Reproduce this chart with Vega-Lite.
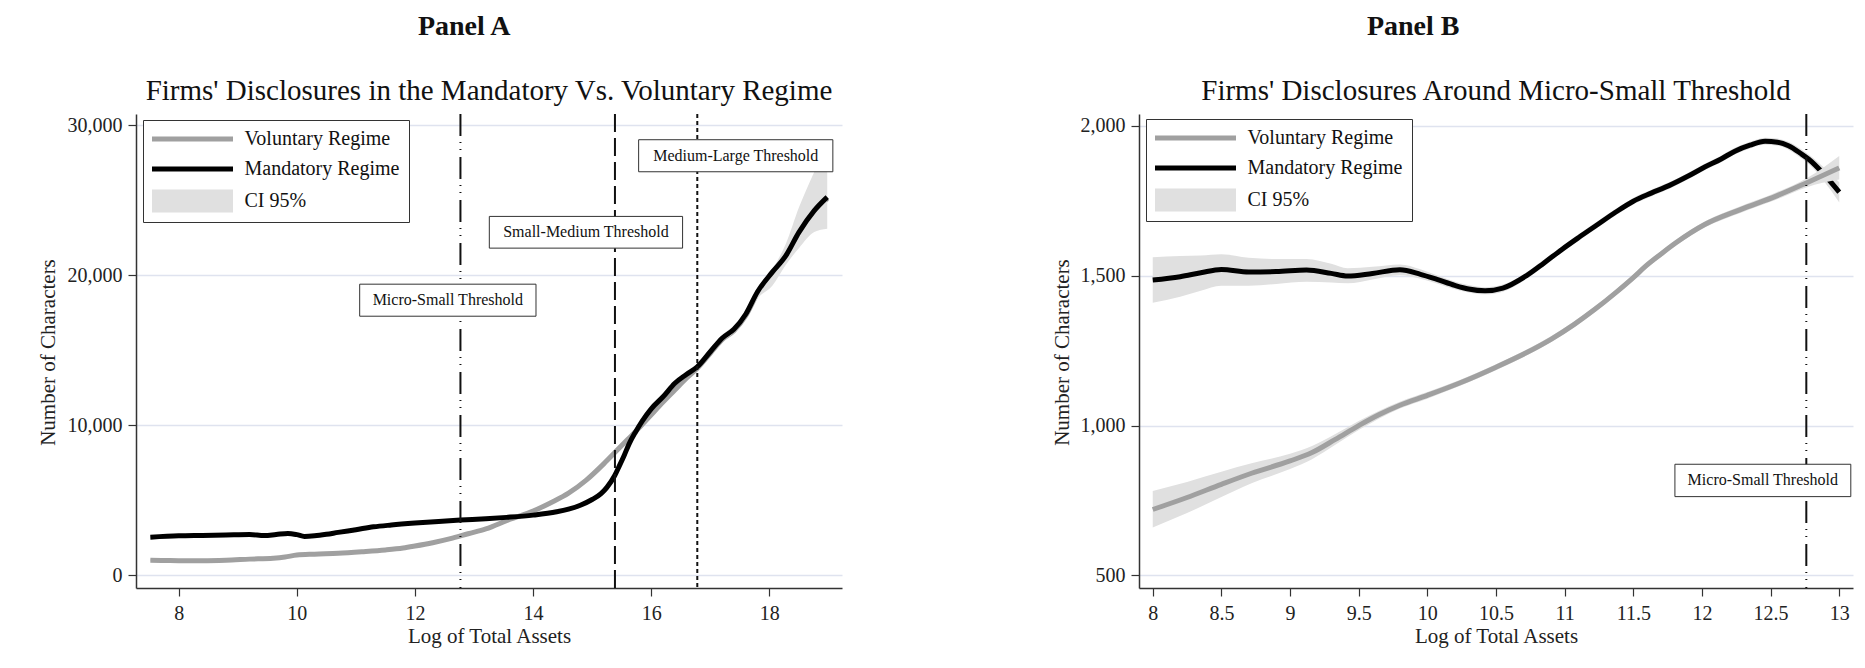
{
  "$schema": "https://vega.github.io/schema/vega-lite/v6.json",
  "padding": {"left": 37, "top": 13, "right": 10, "bottom": 10},
  "background": "white",
  "spacing": 201,
  "config": {
    "font": "Liberation Serif",
    "view": {"stroke": null},
    "axis": {
      "labelFont": "Liberation Serif", "labelFontSize": 20, "labelColor": "#222",
      "titleFont": "Liberation Serif", "titleFontSize": 21, "titleFontWeight": "normal", "titleColor": "#222",
      "domainColor": "#333", "domainWidth": 1.5, "tickColor": "#333", "tickSize": 8, "tickWidth": 1.2,
      "gridColor": "#dfe3ef", "gridWidth": 1.5
    },
    "axisX": {"grid": false, "labelPadding": 7, "titleY": 48, "titleBaseline": "middle"},
    "axisY": {"grid": true, "labelPadding": 6, "titleBaseline": "middle", "titleY": 238},
    "title": {"font": "Liberation Serif", "color": "#111"},
    "legend": {
      "title": null, "orient": "none", "legendX": 7, "legendY": 6, "direction": "vertical", "padding": 9,
      "strokeColor": "#333", "fillColor": "white", "labelFontSize": 20, "labelFont": "Liberation Serif", "labelColor": "#111",
      "labelLimit": 400, "labelOffset": 42, "symbolSize": 100, "symbolStrokeWidth": 0, "symbolOffset": 30.5, "rowPadding": 10,
      "symbolOpacity": 1
    }
  },
  "datasets": {
    "a_vol": [
      {"x": 7.52, "y": 1020, "lo": 960, "hi": 1080, "series": "Voluntary Regime"},
      {"x": 7.8, "y": 1000, "lo": 940, "hi": 1060, "series": "Voluntary Regime"},
      {"x": 8.0, "y": 990, "lo": 930, "hi": 1050, "series": "Voluntary Regime"},
      {"x": 8.4, "y": 990, "lo": 930, "hi": 1050, "series": "Voluntary Regime"},
      {"x": 8.8, "y": 1020, "lo": 960, "hi": 1080, "series": "Voluntary Regime"},
      {"x": 9.2, "y": 1090, "lo": 1030, "hi": 1150, "series": "Voluntary Regime"},
      {"x": 9.6, "y": 1150, "lo": 1090, "hi": 1210, "series": "Voluntary Regime"},
      {"x": 9.8, "y": 1230, "lo": 1170, "hi": 1290, "series": "Voluntary Regime"},
      {"x": 10.0, "y": 1360, "lo": 1300, "hi": 1420, "series": "Voluntary Regime"},
      {"x": 10.3, "y": 1420, "lo": 1360, "hi": 1480, "series": "Voluntary Regime"},
      {"x": 10.7, "y": 1480, "lo": 1420, "hi": 1540, "series": "Voluntary Regime"},
      {"x": 11.1, "y": 1580, "lo": 1520, "hi": 1640, "series": "Voluntary Regime"},
      {"x": 11.5, "y": 1700, "lo": 1640, "hi": 1760, "series": "Voluntary Regime"},
      {"x": 11.8, "y": 1830, "lo": 1770, "hi": 1890, "series": "Voluntary Regime"},
      {"x": 12.0, "y": 1960, "lo": 1900, "hi": 2020, "series": "Voluntary Regime"},
      {"x": 12.3, "y": 2180, "lo": 2120, "hi": 2240, "series": "Voluntary Regime"},
      {"x": 12.6, "y": 2450, "lo": 2390, "hi": 2510, "series": "Voluntary Regime"},
      {"x": 12.9, "y": 2780, "lo": 2720, "hi": 2840, "series": "Voluntary Regime"},
      {"x": 13.2, "y": 3100, "lo": 3040, "hi": 3160, "series": "Voluntary Regime"},
      {"x": 13.6, "y": 3730, "lo": 3670, "hi": 3790, "series": "Voluntary Regime"},
      {"x": 14.0, "y": 4290, "lo": 4230, "hi": 4350, "series": "Voluntary Regime"},
      {"x": 14.3, "y": 4850, "lo": 4790, "hi": 4910, "series": "Voluntary Regime"},
      {"x": 14.6, "y": 5480, "lo": 5420, "hi": 5540, "series": "Voluntary Regime"},
      {"x": 14.9, "y": 6350, "lo": 6290, "hi": 6410, "series": "Voluntary Regime"},
      {"x": 15.2, "y": 7450, "lo": 7350, "hi": 7550, "series": "Voluntary Regime"},
      {"x": 15.4, "y": 8250, "lo": 8150, "hi": 8350, "series": "Voluntary Regime"},
      {"x": 15.6, "y": 9050, "lo": 8950, "hi": 9150, "series": "Voluntary Regime"},
      {"x": 15.8, "y": 9850, "lo": 9750, "hi": 9950, "series": "Voluntary Regime"},
      {"x": 16.0, "y": 10700, "lo": 10600, "hi": 10800, "series": "Voluntary Regime"},
      {"x": 16.2, "y": 11550, "lo": 11450, "hi": 11650, "series": "Voluntary Regime"},
      {"x": 16.4, "y": 12350, "lo": 12250, "hi": 12450, "series": "Voluntary Regime"},
      {"x": 16.6, "y": 13150, "lo": 13050, "hi": 13250, "series": "Voluntary Regime"},
      {"x": 16.78, "y": 13800, "lo": 13700, "hi": 13900, "series": "Voluntary Regime"},
      {"x": 17.0, "y": 14800, "lo": 14650, "hi": 14950, "series": "Voluntary Regime"},
      {"x": 17.2, "y": 15700, "lo": 15550, "hi": 15850, "series": "Voluntary Regime"},
      {"x": 17.4, "y": 16300, "lo": 16150, "hi": 16450, "series": "Voluntary Regime"},
      {"x": 17.6, "y": 17300, "lo": 17150, "hi": 17450, "series": "Voluntary Regime"},
      {"x": 17.8, "y": 18800, "lo": 18650, "hi": 18950, "series": "Voluntary Regime"},
      {"x": 18.05, "y": 20100, "lo": 19950, "hi": 20250, "series": "Voluntary Regime"},
      {"x": 18.28, "y": 21200, "lo": 21050, "hi": 21350, "series": "Voluntary Regime"},
      {"x": 18.5, "y": 22750, "lo": 22600, "hi": 22900, "series": "Voluntary Regime"},
      {"x": 18.76, "y": 24200, "lo": 24050, "hi": 24350, "series": "Voluntary Regime"},
      {"x": 18.98, "y": 25100, "lo": 24950, "hi": 25250, "series": "Voluntary Regime"}
    ],
    "a_man": [
      {"x": 7.52, "y": 2550, "lo": 2470, "hi": 2630, "series": "Mandatory Regime"},
      {"x": 8.0, "y": 2640, "lo": 2560, "hi": 2720, "series": "Mandatory Regime"},
      {"x": 8.4, "y": 2670, "lo": 2590, "hi": 2750, "series": "Mandatory Regime"},
      {"x": 8.8, "y": 2700, "lo": 2620, "hi": 2780, "series": "Mandatory Regime"},
      {"x": 9.2, "y": 2730, "lo": 2650, "hi": 2810, "series": "Mandatory Regime"},
      {"x": 9.45, "y": 2660, "lo": 2580, "hi": 2740, "series": "Mandatory Regime"},
      {"x": 9.65, "y": 2730, "lo": 2650, "hi": 2810, "series": "Mandatory Regime"},
      {"x": 9.85, "y": 2800, "lo": 2720, "hi": 2880, "series": "Mandatory Regime"},
      {"x": 10.0, "y": 2720, "lo": 2640, "hi": 2800, "series": "Mandatory Regime"},
      {"x": 10.13, "y": 2600, "lo": 2520, "hi": 2680, "series": "Mandatory Regime"},
      {"x": 10.3, "y": 2640, "lo": 2560, "hi": 2720, "series": "Mandatory Regime"},
      {"x": 10.5, "y": 2740, "lo": 2660, "hi": 2820, "series": "Mandatory Regime"},
      {"x": 10.7, "y": 2870, "lo": 2790, "hi": 2950, "series": "Mandatory Regime"},
      {"x": 11.0, "y": 3050, "lo": 2970, "hi": 3130, "series": "Mandatory Regime"},
      {"x": 11.3, "y": 3240, "lo": 3160, "hi": 3320, "series": "Mandatory Regime"},
      {"x": 11.6, "y": 3360, "lo": 3280, "hi": 3440, "series": "Mandatory Regime"},
      {"x": 12.0, "y": 3490, "lo": 3410, "hi": 3570, "series": "Mandatory Regime"},
      {"x": 12.4, "y": 3600, "lo": 3520, "hi": 3680, "series": "Mandatory Regime"},
      {"x": 12.77, "y": 3690, "lo": 3610, "hi": 3770, "series": "Mandatory Regime"},
      {"x": 13.2, "y": 3780, "lo": 3700, "hi": 3860, "series": "Mandatory Regime"},
      {"x": 13.55, "y": 3870, "lo": 3790, "hi": 3950, "series": "Mandatory Regime"},
      {"x": 14.0, "y": 4020, "lo": 3940, "hi": 4100, "series": "Mandatory Regime"},
      {"x": 14.4, "y": 4240, "lo": 4160, "hi": 4320, "series": "Mandatory Regime"},
      {"x": 14.6, "y": 4420, "lo": 4340, "hi": 4500, "series": "Mandatory Regime"},
      {"x": 14.8, "y": 4680, "lo": 4600, "hi": 4760, "series": "Mandatory Regime"},
      {"x": 15.0, "y": 5060, "lo": 4980, "hi": 5140, "series": "Mandatory Regime"},
      {"x": 15.15, "y": 5450, "lo": 5370, "hi": 5530, "series": "Mandatory Regime"},
      {"x": 15.25, "y": 5870, "lo": 5790, "hi": 5950, "series": "Mandatory Regime"},
      {"x": 15.38, "y": 6640, "lo": 6540, "hi": 6740, "series": "Mandatory Regime"},
      {"x": 15.46, "y": 7300, "lo": 7200, "hi": 7400, "series": "Mandatory Regime"},
      {"x": 15.54, "y": 7980, "lo": 7880, "hi": 8080, "series": "Mandatory Regime"},
      {"x": 15.63, "y": 8800, "lo": 8700, "hi": 8900, "series": "Mandatory Regime"},
      {"x": 15.73, "y": 9530, "lo": 9430, "hi": 9630, "series": "Mandatory Regime"},
      {"x": 15.85, "y": 10300, "lo": 10200, "hi": 10400, "series": "Mandatory Regime"},
      {"x": 16.0, "y": 11100, "lo": 11000, "hi": 11200, "series": "Mandatory Regime"},
      {"x": 16.2, "y": 11900, "lo": 11780, "hi": 12020, "series": "Mandatory Regime"},
      {"x": 16.4, "y": 12800, "lo": 12680, "hi": 12920, "series": "Mandatory Regime"},
      {"x": 16.6, "y": 13400, "lo": 13260, "hi": 13540, "series": "Mandatory Regime"},
      {"x": 16.78, "y": 13900, "lo": 13740, "hi": 14060, "series": "Mandatory Regime"},
      {"x": 17.0, "y": 14900, "lo": 14700, "hi": 15100, "series": "Mandatory Regime"},
      {"x": 17.2, "y": 15800, "lo": 15580, "hi": 16020, "series": "Mandatory Regime"},
      {"x": 17.4, "y": 16400, "lo": 16150, "hi": 16650, "series": "Mandatory Regime"},
      {"x": 17.6, "y": 17400, "lo": 17100, "hi": 17700, "series": "Mandatory Regime"},
      {"x": 17.8, "y": 18900, "lo": 18450, "hi": 19150, "series": "Mandatory Regime"},
      {"x": 18.05, "y": 20200, "lo": 19300, "hi": 20400, "series": "Mandatory Regime"},
      {"x": 18.28, "y": 21300, "lo": 20700, "hi": 22100, "series": "Mandatory Regime"},
      {"x": 18.5, "y": 22850, "lo": 21800, "hi": 24500, "series": "Mandatory Regime"},
      {"x": 18.76, "y": 24300, "lo": 22870, "hi": 26870, "series": "Mandatory Regime"},
      {"x": 18.98, "y": 25200, "lo": 23090, "hi": 28800, "series": "Mandatory Regime"}
    ],
    "a_thr": [
      {"x": 12.77, "kind": "micro"},
      {"x": 15.386, "kind": "small"},
      {"x": 16.78, "kind": "large"}
    ],
    "a_box": [
      {"x": 11.064, "xe": 14.049, "y": 17267, "ye": 19400},
      {"x": 13.259, "xe": 16.531, "y": 21800, "ye": 23913},
      {"x": 15.787, "xe": 19.075, "y": 26887, "ye": 29020}
    ],
    "a_lab": [
      {"x": 12.556, "y": 18333, "label": "Micro-Small Threshold"},
      {"x": 14.895, "y": 22857, "label": "Small-Medium Threshold"},
      {"x": 17.431, "y": 27953, "label": "Medium-Large Threshold"}
    ],
    "b_vol": [
      {"x": 8.0, "y": 720, "lo": 660, "hi": 782, "series": "Voluntary Regime"},
      {"x": 8.25, "y": 760, "lo": 708, "hi": 812, "series": "Voluntary Regime"},
      {"x": 8.5, "y": 804, "lo": 762, "hi": 846, "series": "Voluntary Regime"},
      {"x": 8.72, "y": 841, "lo": 808, "hi": 874, "series": "Voluntary Regime"},
      {"x": 9.0, "y": 882, "lo": 855, "hi": 906, "series": "Voluntary Regime"},
      {"x": 9.16, "y": 910, "lo": 888, "hi": 932, "series": "Voluntary Regime"},
      {"x": 9.33, "y": 954, "lo": 936, "hi": 972, "series": "Voluntary Regime"},
      {"x": 9.5, "y": 1000, "lo": 985, "hi": 1015, "series": "Voluntary Regime"},
      {"x": 9.65, "y": 1037, "lo": 1024, "hi": 1050, "series": "Voluntary Regime"},
      {"x": 9.8, "y": 1068, "lo": 1057, "hi": 1080, "series": "Voluntary Regime"},
      {"x": 10.0, "y": 1101, "lo": 1090, "hi": 1112, "series": "Voluntary Regime"},
      {"x": 10.24, "y": 1143, "lo": 1133, "hi": 1153, "series": "Voluntary Regime"},
      {"x": 10.5, "y": 1195, "lo": 1185, "hi": 1205, "series": "Voluntary Regime"},
      {"x": 10.72, "y": 1243, "lo": 1233, "hi": 1253, "series": "Voluntary Regime"},
      {"x": 10.9, "y": 1288, "lo": 1278, "hi": 1298, "series": "Voluntary Regime"},
      {"x": 11.07, "y": 1338, "lo": 1328, "hi": 1348, "series": "Voluntary Regime"},
      {"x": 11.22, "y": 1388, "lo": 1378, "hi": 1398, "series": "Voluntary Regime"},
      {"x": 11.37, "y": 1443, "lo": 1433, "hi": 1453, "series": "Voluntary Regime"},
      {"x": 11.5, "y": 1494, "lo": 1484, "hi": 1504, "series": "Voluntary Regime"},
      {"x": 11.59, "y": 1532, "lo": 1522, "hi": 1542, "series": "Voluntary Regime"},
      {"x": 11.7, "y": 1572, "lo": 1562, "hi": 1582, "series": "Voluntary Regime"},
      {"x": 11.81, "y": 1610, "lo": 1600, "hi": 1620, "series": "Voluntary Regime"},
      {"x": 12.02, "y": 1671, "lo": 1661, "hi": 1681, "series": "Voluntary Regime"},
      {"x": 12.28, "y": 1721, "lo": 1710, "hi": 1732, "series": "Voluntary Regime"},
      {"x": 12.54, "y": 1766, "lo": 1754, "hi": 1778, "series": "Voluntary Regime"},
      {"x": 12.76, "y": 1810, "lo": 1795, "hi": 1825, "series": "Voluntary Regime"},
      {"x": 13.0, "y": 1860, "lo": 1821, "hi": 1900, "series": "Voluntary Regime"}
    ],
    "b_man": [
      {"x": 8.0, "y": 1486, "lo": 1410, "hi": 1562, "series": "Mandatory Regime"},
      {"x": 8.2, "y": 1497, "lo": 1430, "hi": 1566, "series": "Mandatory Regime"},
      {"x": 8.35, "y": 1510, "lo": 1450, "hi": 1568, "series": "Mandatory Regime"},
      {"x": 8.5, "y": 1521, "lo": 1467, "hi": 1572, "series": "Mandatory Regime"},
      {"x": 8.7, "y": 1513, "lo": 1467, "hi": 1560, "series": "Mandatory Regime"},
      {"x": 8.9, "y": 1514, "lo": 1473, "hi": 1556, "series": "Mandatory Regime"},
      {"x": 9.12, "y": 1519, "lo": 1480, "hi": 1556, "series": "Mandatory Regime"},
      {"x": 9.3, "y": 1508, "lo": 1478, "hi": 1540, "series": "Mandatory Regime"},
      {"x": 9.42, "y": 1499, "lo": 1475, "hi": 1525, "series": "Mandatory Regime"},
      {"x": 9.6, "y": 1508, "lo": 1488, "hi": 1530, "series": "Mandatory Regime"},
      {"x": 9.8, "y": 1520, "lo": 1502, "hi": 1538, "series": "Mandatory Regime"},
      {"x": 9.95, "y": 1505, "lo": 1490, "hi": 1522, "series": "Mandatory Regime"},
      {"x": 10.07, "y": 1488, "lo": 1474, "hi": 1502, "series": "Mandatory Regime"},
      {"x": 10.2, "y": 1468, "lo": 1455, "hi": 1481, "series": "Mandatory Regime"},
      {"x": 10.3, "y": 1456, "lo": 1444, "hi": 1469, "series": "Mandatory Regime"},
      {"x": 10.42, "y": 1450, "lo": 1438, "hi": 1462, "series": "Mandatory Regime"},
      {"x": 10.55, "y": 1459, "lo": 1447, "hi": 1471, "series": "Mandatory Regime"},
      {"x": 10.72, "y": 1500, "lo": 1489, "hi": 1511, "series": "Mandatory Regime"},
      {"x": 10.85, "y": 1543, "lo": 1532, "hi": 1554, "series": "Mandatory Regime"},
      {"x": 10.98, "y": 1588, "lo": 1577, "hi": 1599, "series": "Mandatory Regime"},
      {"x": 11.1, "y": 1627, "lo": 1616, "hi": 1638, "series": "Mandatory Regime"},
      {"x": 11.24, "y": 1671, "lo": 1660, "hi": 1682, "series": "Mandatory Regime"},
      {"x": 11.37, "y": 1712, "lo": 1701, "hi": 1723, "series": "Mandatory Regime"},
      {"x": 11.5, "y": 1749, "lo": 1738, "hi": 1760, "series": "Mandatory Regime"},
      {"x": 11.63, "y": 1776, "lo": 1765, "hi": 1787, "series": "Mandatory Regime"},
      {"x": 11.76, "y": 1801, "lo": 1790, "hi": 1812, "series": "Mandatory Regime"},
      {"x": 11.9, "y": 1833, "lo": 1822, "hi": 1844, "series": "Mandatory Regime"},
      {"x": 12.02, "y": 1863, "lo": 1852, "hi": 1874, "series": "Mandatory Regime"},
      {"x": 12.14, "y": 1890, "lo": 1879, "hi": 1901, "series": "Mandatory Regime"},
      {"x": 12.24, "y": 1916, "lo": 1905, "hi": 1927, "series": "Mandatory Regime"},
      {"x": 12.35, "y": 1936, "lo": 1925, "hi": 1947, "series": "Mandatory Regime"},
      {"x": 12.46, "y": 1949, "lo": 1937, "hi": 1961, "series": "Mandatory Regime"},
      {"x": 12.55, "y": 1946, "lo": 1934, "hi": 1958, "series": "Mandatory Regime"},
      {"x": 12.63, "y": 1934, "lo": 1921, "hi": 1947, "series": "Mandatory Regime"},
      {"x": 12.72, "y": 1908, "lo": 1893, "hi": 1923, "series": "Mandatory Regime"},
      {"x": 12.78, "y": 1888, "lo": 1872, "hi": 1904, "series": "Mandatory Regime"},
      {"x": 12.89, "y": 1838, "lo": 1815, "hi": 1861, "series": "Mandatory Regime"},
      {"x": 13.0, "y": 1779, "lo": 1745, "hi": 1812, "series": "Mandatory Regime"}
    ],
    "b_thr": [{"x": 12.76}],
    "b_box": [{"x": 11.803, "xe": 13.084, "y": 763, "ye": 871}],
    "b_lab": [{"x": 12.443, "y": 817, "label": "Micro-Small Threshold"}]
  },
  "resolve": {"scale": {"color": "independent", "shape": "independent"}, "legend": {"color": "independent", "shape": "independent"}},
  "hconcat": [
    {
      "title": {"text": "Panel A", "anchor": "middle", "frame": "bounds", "fontSize": 28, "fontWeight": "bold", "offset": 36, "dx": 21},
      "resolve": {"scale": {"color": "independent", "shape": "independent"}, "legend": {"color": "independent", "shape": "independent"}},
      "vconcat": [
        {
          "width": 706, "height": 474,
          "title": {"text": "Firms' Disclosures in the Mandatory Vs. Voluntary Regime", "fontSize": 29, "fontWeight": "normal", "anchor": "middle", "offset": 7},
          "layer": [
            {
              "data": {"name": "a_vol"},
              "mark": {"type": "area", "color": "#e0e0e0", "interpolate": "monotone"},
              "encoding": {
                "x": {"field": "x", "type": "quantitative", "scale": {"domain": [7.277, 19.23], "nice": false, "zero": false}},
                "y": {"field": "lo", "type": "quantitative", "scale": {"domain": [-833, 30733], "nice": false, "zero": false}},
                "y2": {"field": "hi"}
              }
            },
            {
              "data": {"name": "a_vol"},
              "mark": {"type": "line", "strokeWidth": 5, "interpolate": "monotone", "color": "#a0a0a0"},
              "encoding": {
                "x": {"field": "x", "type": "quantitative", "scale": {"domain": [7.277, 19.23], "nice": false, "zero": false},
                      "axis": {"title": "Log of Total Assets", "values": [8, 10, 12, 14, 16, 18], "format": "d"}},
                "y": {"field": "y", "type": "quantitative", "scale": {"domain": [-833, 30733], "nice": false, "zero": false},
                      "axis": {"title": "Number of Characters", "values": [0, 10000, 20000, 30000], "format": ",d", "titleX": -88}}
              }
            },
            {
              "data": {"name": "a_man"},
              "mark": {"type": "area", "color": "#e0e0e0", "interpolate": "monotone"},
              "encoding": {
                "x": {"field": "x", "type": "quantitative"},
                "y": {"field": "lo", "type": "quantitative"},
                "y2": {"field": "hi"}
              }
            },
            {
              "data": {"name": "a_man"},
              "mark": {"type": "line", "strokeWidth": 5, "interpolate": "monotone", "color": "#000000"},
              "encoding": {
                "x": {"field": "x", "type": "quantitative"},
                "y": {"field": "y", "type": "quantitative"}
              }
            },
            {
              "data": {"name": "a_man"},
              "mark": {"type": "point", "filled": true, "opacity": 0},
              "encoding": {
                "x": {"field": "x", "type": "quantitative"},
                "y": {"field": "y", "type": "quantitative"},
                "color": {"field": "series", "type": "nominal",
                  "scale": {"domain": ["Voluntary Regime", "Mandatory Regime", "CI 95%"], "range": ["#a0a0a0", "#000000", "#e0e0e0"]},
                  "legend": {"legendY": 6}},
                "shape": {"field": "series", "type": "nominal",
                  "scale": {"domain": ["Voluntary Regime", "Mandatory Regime", "CI 95%"], "range": ["M-8.1,-0.5H8.1V0.5H-8.1Z", "M-8.1,-0.5H8.1V0.5H-8.1Z", "M-8.1,-2.3H8.1V2.3H-8.1Z"]},
                  "legend": {"legendY": 6}}
              }
            },
            {
              "data": {"name": "a_thr"},
              "mark": {"type": "rule", "color": "#111", "strokeWidth": 2},
              "encoding": {
                "x": {"field": "x", "type": "quantitative"},
                "strokeDash": {"field": "kind", "type": "nominal",
                  "scale": {"domain": ["micro", "small", "large"], "range": [[22, 6, 1, 6, 1, 7], [18, 6], [4, 3]]},
                  "legend": null}
              }
            },
            {
              "data": {"name": "a_box"},
              "mark": {"type": "rect", "fill": "white", "stroke": "#333", "strokeWidth": 1},
              "encoding": {
                "x": {"field": "x", "type": "quantitative"},
                "x2": {"field": "xe"},
                "y": {"field": "y", "type": "quantitative"},
                "y2": {"field": "ye"}
              }
            },
            {
              "data": {"name": "a_lab"},
              "mark": {"type": "text", "fontSize": 16, "color": "#111", "align": "center", "baseline": "middle", "font": "Liberation Serif"},
              "encoding": {
                "x": {"field": "x", "type": "quantitative"},
                "y": {"field": "y", "type": "quantitative"},
                "text": {"field": "label"}
              }
            }
          ]
        }
      ]
    },
    {
      "title": {"text": "Panel B", "anchor": "middle", "frame": "bounds", "fontSize": 28, "fontWeight": "bold", "offset": 36, "dx": -43},
      "resolve": {"scale": {"color": "independent", "shape": "independent"}, "legend": {"color": "independent", "shape": "independent"}},
      "vconcat": [
        {
          "width": 714, "height": 474,
          "title": {"text": "Firms' Disclosures Around Micro-Small Threshold", "fontSize": 29, "fontWeight": "normal", "anchor": "middle", "offset": 7},
          "layer": [
            {
              "data": {"name": "b_man"},
              "mark": {"type": "area", "color": "#e0e0e0", "interpolate": "monotone"},
              "encoding": {
                "x": {"field": "x", "type": "quantitative", "scale": {"domain": [7.9, 13.1], "nice": false, "zero": false}},
                "y": {"field": "lo", "type": "quantitative", "scale": {"domain": [458, 2040], "nice": false, "zero": false}},
                "y2": {"field": "hi"}
              }
            },
            {
              "data": {"name": "b_man"},
              "mark": {"type": "line", "strokeWidth": 5, "interpolate": "monotone", "color": "#000000"},
              "encoding": {
                "x": {"field": "x", "type": "quantitative", "scale": {"domain": [7.9, 13.1], "nice": false, "zero": false},
                      "axis": {"title": "Log of Total Assets", "values": [8, 8.5, 9, 9.5, 10, 10.5, 11, 11.5, 12, 12.5, 13], "format": "~g"}},
                "y": {"field": "y", "type": "quantitative", "scale": {"domain": [458, 2040], "nice": false, "zero": false},
                      "axis": {"title": "Number of Characters", "values": [500, 1000, 1500, 2000], "format": ",d", "titleX": -77}}
              }
            },
            {
              "data": {"name": "b_vol"},
              "mark": {"type": "area", "color": "#e0e0e0", "interpolate": "monotone"},
              "encoding": {
                "x": {"field": "x", "type": "quantitative"},
                "y": {"field": "lo", "type": "quantitative"},
                "y2": {"field": "hi"}
              }
            },
            {
              "data": {"name": "b_vol"},
              "mark": {"type": "line", "strokeWidth": 5, "interpolate": "monotone", "color": "#a0a0a0"},
              "encoding": {
                "x": {"field": "x", "type": "quantitative"},
                "y": {"field": "y", "type": "quantitative"}
              }
            },
            {
              "data": {"name": "b_vol"},
              "mark": {"type": "point", "filled": true, "opacity": 0},
              "encoding": {
                "x": {"field": "x", "type": "quantitative"},
                "y": {"field": "y", "type": "quantitative"},
                "color": {"field": "series", "type": "nominal",
                  "scale": {"domain": ["Voluntary Regime", "Mandatory Regime", "CI 95%"], "range": ["#a0a0a0", "#000000", "#e0e0e0"]},
                  "legend": {"legendY": 5}},
                "shape": {"field": "series", "type": "nominal",
                  "scale": {"domain": ["Voluntary Regime", "Mandatory Regime", "CI 95%"], "range": ["M-8.1,-0.5H8.1V0.5H-8.1Z", "M-8.1,-0.5H8.1V0.5H-8.1Z", "M-8.1,-2.3H8.1V2.3H-8.1Z"]},
                  "legend": {"legendY": 5}}
              }
            },
            {
              "data": {"name": "b_thr"},
              "mark": {"type": "rule", "color": "#111", "strokeWidth": 2, "strokeDash": [22, 6, 1, 6, 1, 7]},
              "encoding": {
                "x": {"field": "x", "type": "quantitative"}
              }
            },
            {
              "data": {"name": "b_box"},
              "mark": {"type": "rect", "fill": "white", "stroke": "#333", "strokeWidth": 1},
              "encoding": {
                "x": {"field": "x", "type": "quantitative"},
                "x2": {"field": "xe"},
                "y": {"field": "y", "type": "quantitative"},
                "y2": {"field": "ye"}
              }
            },
            {
              "data": {"name": "b_lab"},
              "mark": {"type": "text", "fontSize": 16, "color": "#111", "align": "center", "baseline": "middle", "font": "Liberation Serif"},
              "encoding": {
                "x": {"field": "x", "type": "quantitative"},
                "y": {"field": "y", "type": "quantitative"},
                "text": {"field": "label"}
              }
            }
          ]
        }
      ]
    }
  ]
}
